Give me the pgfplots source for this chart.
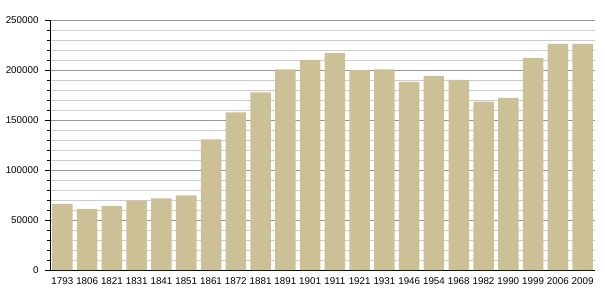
\documentclass[border=0pt]{standalone}
\usepackage{pgfplots}
\pgfplotsset{compat=1.18}
\usepackage{fontspec}
\setmainfont{Liberation Sans}
\definecolor{bartan}{RGB}{203,192,150}
\definecolor{majgrid}{RGB}{150,150,150}
\definecolor{mingrid}{RGB}{205,205,205}
\begin{document}
\begin{tikzpicture}
\begin{axis}[
  at={(0,0)}, anchor=south west,
  scale only axis, width=545pt, height=250pt,
  xmin=-0.5, xmax=21.5, ymin=0, ymax=250000,
  axis x line=bottom, axis y line=left,
  axis line style={-, black, line width=0.8pt},
  xtick={0,...,21},
  xticklabels={1793,1806,1821,1831,1841,1851,1861,1872,1881,1891,1901,1911,1921,1931,1946,1954,1968,1982,1990,1999,2006,2009},
  x tick label style={font=\fontsize{9.8}{11}\selectfont, yshift=1pt},
  ytick={0,50000,...,250000},
  minor y tick num=4,
  scaled y ticks=false,
  /pgf/number format/fixed,
  /pgf/number format/1000 sep={},
  /pgf/number format/assume math mode=true,
  y tick label style={font=\fontsize{9.8}{11}\selectfont, xshift=-3pt},
  tick align=outside,
  major tick length=5pt, minor tick length=3pt,
  x tick style={draw=none},
  y tick style={black, line width=0.6pt},
  ymajorgrids, yminorgrids,
  major grid style={majgrid, line width=0.7pt},
  minor grid style={mingrid, line width=0.6pt},
  ybar, bar width=20.5pt,
  clip=false,
]
\addplot[fill=bartan, draw=none] coordinates {
(0,66000) (1,61000) (2,64000) (3,69300) (4,71700) (5,74700)
(6,130700) (7,157700) (8,177700) (9,200700) (10,210000) (11,217000)
(12,200000) (13,200700) (14,188000) (15,194000) (16,190000) (17,168300)
(18,172000) (19,212000) (20,226000) (21,226000)
};
\end{axis}
\path (-50pt,-30pt) rectangle (555pt,270pt);
\end{tikzpicture}
\end{document}
